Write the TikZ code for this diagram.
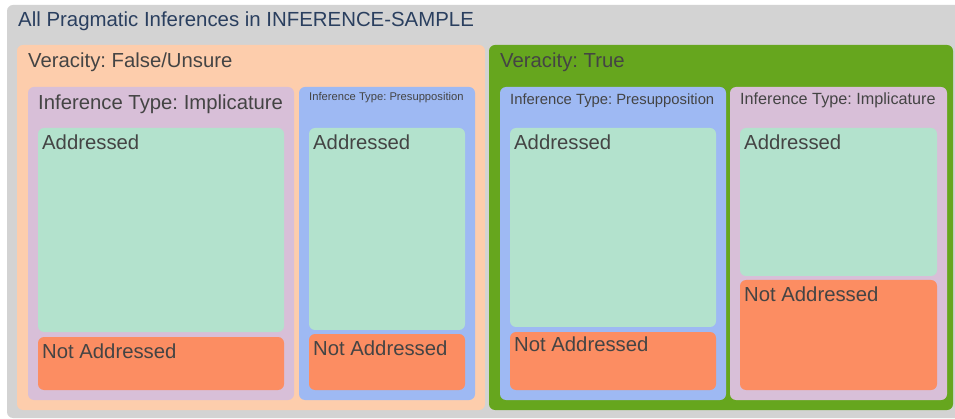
\documentclass[tikz,border=0pt]{standalone}
\usepackage{fontspec}
\setmainfont{Liberation Sans}
\frenchspacing
\definecolor{rootgray}{RGB}{211,211,211}
\definecolor{peach}{RGB}{253,205,172}
\definecolor{leafgreen}{RGB}{102,166,30}
\definecolor{thistle}{RGB}{216,191,216}
\definecolor{paleblue}{RGB}{158,185,243}
\definecolor{mint}{RGB}{179,226,205}
\definecolor{salmon}{RGB}{252,141,98}
\definecolor{titleblue}{RGB}{42,63,95}
\definecolor{labelgray}{RGB}{68,68,68}
\tikzset{
  tile/.style={rounded corners=6pt},
  lbl/.style={anchor=base west, inner sep=0pt, text=labelgray,
    font=\fontsize{20.3}{24}\selectfont},
  midlbl/.style={lbl, font=\fontsize{16.2}{19}\selectfont},
  presulbl/.style={lbl, font=\fontsize{14.8}{18}\selectfont},
  tinylbl/.style={lbl, font=\fontsize{11.2}{14}\selectfont}
}

\begin{document}
\begin{tikzpicture}[x=1pt, y=-1pt]
    % units are pixels of the treemap, y grows downwards
    \useasboundingbox (0,0) rectangle (955,419);
    \clip (0,0) rectangle (955,419);
    % root
    \fill[tile, rootgray] (7,5) rectangle (970,418);
    \node[lbl, text=titleblue, font=\fontsize{20.4}{24}\selectfont] (root) at (18,27)
       {All Pragmatic Inferences in INFERENCE-SAMPLE};
    % Veracity: False/Unsure
    \fill[tile, peach] (17,45) rectangle (485,410);
    \node[lbl] (falseLbl) at (28,68) {Veracity: False/Unsure};
    \fill[tile, thistle] (28,87) rectangle (294,400);
    \node[lbl] (fImpLbl) at (38,110) {Inference Type: Implicature};
    \fill[tile, mint] (38,128) rectangle (284,332);
    \node[lbl] (fImpAdd) at (42,150) {Addressed};
    \fill[tile, salmon] (38,337) rectangle (284,390);
    \node[lbl] (fImpNot) at (42,358) {Not Addressed};
    \fill[tile, paleblue] (299,87) rectangle (475,400);
    \node[tinylbl] (fPreLbl) at (309,101) {Inference Type: Presupposition};
    \fill[tile, mint] (309,128) rectangle (465,330);
    \node[lbl] (fPreAdd) at (313,150) {Addressed};
    \fill[tile, salmon] (309,334) rectangle (465,390);
    \node[lbl] (fPreNot) at (313,355) {Not Addressed};
    % Veracity: True
    \fill[tile, leafgreen] (489,45) rectangle (953,410);
    \node[lbl] (trueLbl) at (500,68) {Veracity: True};
    \fill[tile, paleblue] (500,87) rectangle (726,400);
    \node[presulbl] (tPreLbl) at (510,105) {Inference Type: Presupposition};
    \fill[tile, mint] (510,128) rectangle (716,327);
    \node[lbl] (tPreAdd) at (514,150) {Addressed};
    \fill[tile, salmon] (510,332) rectangle (716,390);
    \node[lbl] (tPreNot) at (514,352) {Not Addressed};
    \fill[tile, thistle] (730,87) rectangle (947,400);
    \node[midlbl] (tImpLbl) at (740,105) {Inference Type: Implicature};
    \fill[tile, mint] (740,128) rectangle (937,276);
    \node[lbl] (tImpAdd) at (744,150) {Addressed};
    \fill[tile, salmon] (740,280) rectangle (937,390);
    \node[lbl] (tImpNot) at (744,302) {Not Addressed};
\end{tikzpicture}
\end{document}
